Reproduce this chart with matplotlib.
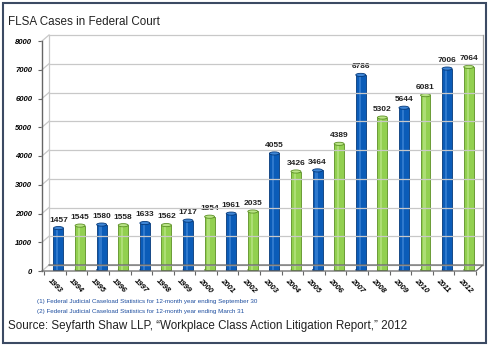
import matplotlib
matplotlib.use("Agg")
import matplotlib.pyplot as plt
import matplotlib.transforms as mtransforms
from matplotlib.patches import Ellipse, Rectangle
from matplotlib.lines import Line2D

years = ["1993", "1994", "1995", "1996", "1997", "1998", "1999", "2000", "2001", "2002",
         "2003", "2004", "2005", "2006", "2007", "2008", "2009", "2010", "2011", "2012"]
cases = [1457, 1545, 1580, 1558, 1633, 1562, 1717, 1854, 1961, 2035,
         4055, 3426, 3464, 4389, 6786, 5302, 5644, 6081, 7006, 7064]
yticks = [0, 1000, 2000, 3000, 4000, 5000, 6000, 7000, 8000]
notes = ["(1) Federal Judicial Caseload Statistics for 12-month year ending September 30",
         "(2) Federal Judicial Caseload Statistics for 12-month year ending March 31"]

blue, blue_dark, blue_light = "#0b5cb8", "#063a7a", "#3f86d6"
green, green_dark, green_light = "#92d050", "#5c8f25", "#b9e486"

W, H = 493, 346
fig = plt.figure(figsize=(W / 100, H / 100), dpi=100)
plt.rcParams['font.family'] = ['Liberation Sans', 'DejaVu Sans']
ident = mtransforms.IdentityTransform()

# outer frame
fig.patches.append(Rectangle((3 / W, 3 / H), 483 / W, 340 / H, transform=fig.transFigure,
                             fill=False, edgecolor="#3b4a63", linewidth=1.5))

# axes: front floor edge from x=42 to 476 px, y 0 at 271 px, 8000 at 41 px
x0, x1 = 42, 476
yb, yt = 271, 41
ax = fig.add_axes([x0 / W, 1 - yb / H, (x1 - x0) / W, (yb - yt) / H])
ax.set_ylim(0, 8000)
ax.set_xlim(-0.6, 19.4)
for s in ax.spines.values():
    s.set_visible(False)
ax.patch.set_alpha(0)

dx, dy = 7, 6  # depth offset in pixels
gtrans = mtransforms.blended_transform_factory(ax.transAxes, ax.transData)

# back wall gridlines + side wall diagonals
for v in yticks:
    xa, ya = gtrans.transform((0, v))
    xb, _ = gtrans.transform((1, v))
    fig.add_artist(Line2D([xa + dx, xb + dx], [ya + dy, ya + dy], transform=ident,
                          color="#c8c8c8", lw=0.9))
    fig.add_artist(Line2D([xa, xa + dx], [ya, ya + dy], transform=ident,
                          color="#c8c8c8", lw=0.9))

fx0, fy0 = gtrans.transform((0, 0))
fx1, fy1 = gtrans.transform((1, 0))
_, ftop = gtrans.transform((0, 8000))
fig.add_artist(Line2D([fx0 + dx, fx0 + dx], [fy0 + dy, ftop + dy], transform=ident,
                      color="#c8c8c8", lw=0.9))
fig.add_artist(Line2D([fx1 + dx, fx1 + dx], [fy0 + dy, ftop + dy], transform=ident,
                      color="#a0a0a0", lw=0.9))
# floor and front axis
fig.add_artist(Line2D([fx0, fx1, fx1 + dx, fx0 + dx], [fy0, fy1, fy1 + dy, fy0 + dy],
                      transform=ident, color="#666666", lw=0.9))
fig.add_artist(Line2D([fx0, fx0], [fy0, ftop], transform=ident, color="#666666", lw=1.0))

# cylinder bars
bw = 0.46
mid = mtransforms.offset_copy(ax.transData, fig=fig, x=dx / 2, y=dy / 2 - 2, units='dots')
for i, (yr, v) in enumerate(zip(years, cases)):
    if i % 2 == 0:
        c, cd, cl = blue, blue_dark, blue_light
    else:
        c, cd, cl = green, green_dark, green_light
    ax.add_patch(Ellipse((i, 0), bw, 110, facecolor=c, edgecolor=cd, linewidth=0.6,
                         transform=mid, zorder=2))
    ax.add_patch(Rectangle((i - bw / 2, 0), bw, v, facecolor=c, edgecolor=cd,
                           linewidth=0.6, transform=mid, zorder=3))
    ax.add_patch(Rectangle((i - bw * 0.22, 0), bw * 0.22, v, facecolor=cl,
                           linewidth=0, alpha=0.7, transform=mid, zorder=3))
    ax.add_patch(Ellipse((i, v), bw, 110, facecolor=cl, edgecolor=cd, linewidth=0.6,
                         transform=mid, zorder=4))
    ax.text(i, v + 160, str(v), transform=mid, ha="center", va="bottom",
            fontsize=6, fontweight="bold", color="#222222", zorder=5)

ax.set_yticks(yticks)
ax.set_yticklabels([str(t) for t in yticks], fontsize=5.5, fontweight="bold", style="italic")
ax.tick_params(axis="y", length=3, width=0.8, color="#666666", pad=4)

# year labels under bars, tick marks at category boundaries
ax.set_xticks(range(len(years)))
ax.set_xticklabels(years, rotation=-45, ha="left", va="top", rotation_mode="anchor",
                   fontsize=5.5, fontweight="bold", style="italic")
ax.tick_params(axis="x", which="major", length=0, pad=5)
ax.set_xticks([i + 0.5 for i in range(-1, len(years))], minor=True)
ax.tick_params(axis="x", which="minor", length=3, width=0.8, color="#666666")
shift = mtransforms.ScaledTranslation(-4 / 100, 0, fig.dpi_scale_trans)
for lbl in ax.get_xticklabels():
    lbl.set_transform(lbl.get_transform() + shift)

fig.text(8 / W, 1 - 22 / H, "FLSA Cases in Federal Court", fontsize=8.4, va="center",
         color="#222222")
fig.text(37 / W, 1 - 302 / H, notes[0], fontsize=4.5, va="center", color="#1f4fa0")
fig.text(37 / W, 1 - 311 / H, notes[1], fontsize=4.5, va="center", color="#1f4fa0")
fig.text(8 / W, 1 - 326 / H,
         "Source: Seyfarth Shaw LLP, \u201cWorkplace Class Action Litigation Report,\u201d 2012",
         fontsize=8.4, va="center", color="#222222")

fig.savefig("out.png", dpi=100)
